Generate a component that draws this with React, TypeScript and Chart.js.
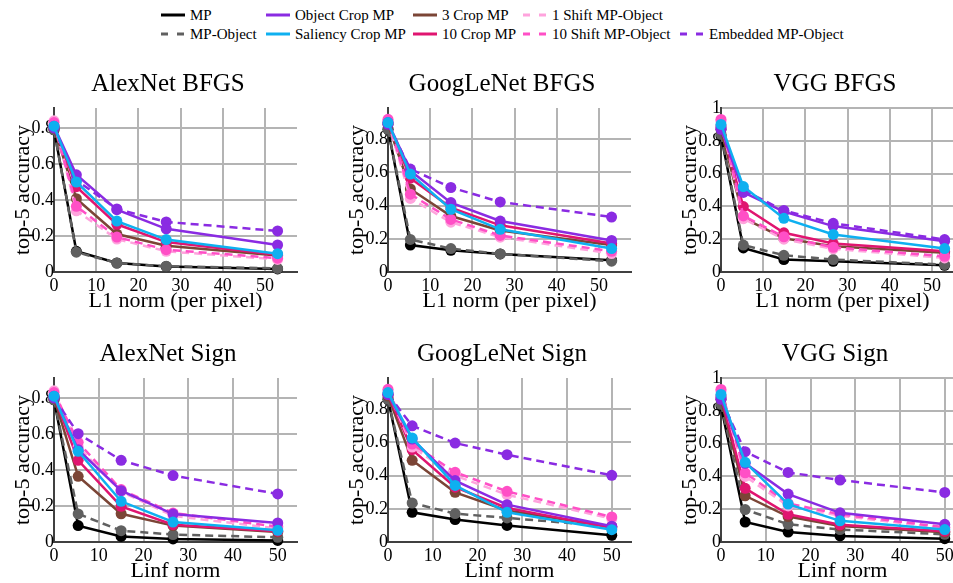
import React, { useEffect, useRef } from 'react';
import { Chart, registerables } from 'chart.js';

Chart.register(...registerables);

// ---------- data ----------
const seriesNames = [
  'MP',
  'MP-Object',
  'Object Crop MP',
  'Saliency Crop MP',
  '3 Crop MP',
  '10 Crop MP',
  '1 Shift MP-Object',
  '10 Shift MP-Object',
  'Embedded MP-Object',
];

const l1Norms = [0, 5.3, 14.9, 26.6, 53];
const linfNorms = [0, 5.4, 15, 26.6, 50];

// rows follow seriesNames order
const alexNetBFGS = [
  [0.79, 0.115, 0.05, 0.031, 0.017],
  [0.79, 0.11, 0.05, 0.032, 0.02],
  [0.81, 0.54, 0.346, 0.24, 0.15],
  [0.81, 0.5, 0.283, 0.18, 0.102],
  [0.8, 0.407, 0.211, 0.146, 0.092],
  [0.81, 0.474, 0.265, 0.166, 0.096],
  [0.84, 0.34, 0.183, 0.115, 0.07],
  [0.83, 0.365, 0.194, 0.124, 0.077],
  [0.8, 0.51, 0.35, 0.278, 0.228],
];
const googLeNetBFGS = [
  [0.86, 0.162, 0.131, 0.109, 0.071],
  [0.86, 0.196, 0.141, 0.109, 0.065],
  [0.9, 0.61, 0.418, 0.307, 0.19],
  [0.9, 0.59, 0.378, 0.257, 0.141],
  [0.89, 0.5, 0.337, 0.25, 0.162],
  [0.9, 0.565, 0.388, 0.281, 0.172],
  [0.91, 0.443, 0.3, 0.21, 0.111],
  [0.92, 0.469, 0.317, 0.22, 0.125],
  [0.89, 0.62, 0.509, 0.422, 0.331],
];
const vggBFGS = [
  [0.83, 0.147, 0.076, 0.065, 0.041],
  [0.84, 0.164, 0.102, 0.076, 0.045],
  [0.88, 0.485, 0.368, 0.28, 0.188],
  [0.9, 0.521, 0.327, 0.229, 0.143],
  [0.87, 0.33, 0.205, 0.157, 0.117],
  [0.89, 0.399, 0.239, 0.174, 0.127],
  [0.92, 0.325, 0.2, 0.141, 0.086],
  [0.93, 0.342, 0.215, 0.151, 0.096],
  [0.87, 0.5, 0.375, 0.297, 0.198],
];
const alexNetSign = [
  [0.79, 0.091, 0.031, 0.017, 0.009],
  [0.79, 0.156, 0.063, 0.041, 0.026],
  [0.81, 0.513, 0.285, 0.155, 0.106],
  [0.81, 0.504, 0.226, 0.111, 0.065],
  [0.8, 0.365, 0.157, 0.091, 0.055],
  [0.81, 0.454, 0.198, 0.096, 0.06],
  [0.84, 0.53, 0.28, 0.145, 0.075],
  [0.83, 0.554, 0.291, 0.161, 0.085],
  [0.8, 0.602, 0.454, 0.369, 0.267],
];
const googLeNetSign = [
  [0.86, 0.179, 0.135, 0.1, 0.04],
  [0.86, 0.235, 0.171, 0.145, 0.094],
  [0.89, 0.62, 0.37, 0.225, 0.095],
  [0.9, 0.627, 0.341, 0.179, 0.074],
  [0.88, 0.492, 0.299, 0.19, 0.09],
  [0.89, 0.556, 0.33, 0.205, 0.085],
  [0.91, 0.572, 0.4, 0.285, 0.14],
  [0.92, 0.59, 0.42, 0.305, 0.151],
  [0.89, 0.7, 0.596, 0.526, 0.402],
];
const vggSign = [
  [0.83, 0.122, 0.061, 0.037, 0.02],
  [0.84, 0.198, 0.108, 0.076, 0.047],
  [0.88, 0.48, 0.292, 0.178, 0.108],
  [0.9, 0.486, 0.231, 0.129, 0.076],
  [0.87, 0.282, 0.155, 0.097, 0.06],
  [0.89, 0.327, 0.169, 0.105, 0.065],
  [0.92, 0.4, 0.22, 0.16, 0.085],
  [0.93, 0.422, 0.235, 0.169, 0.09],
  [0.87, 0.551, 0.424, 0.378, 0.302],
];

const panelTitles = ['AlexNet BFGS', 'GoogLeNet BFGS', 'VGG BFGS', 'AlexNet Sign', 'GoogLeNet Sign', 'VGG Sign'];
const panelValues = [alexNetBFGS, googLeNetBFGS, vggBFGS, alexNetSign, googLeNetSign, vggSign];
const xTitles = ['L1 norm (per pixel)', 'Linf norm'];
const yTitle = 'top-5 accuracy';
const xTickStep = 10;
const yTickStep = 0.2;

// ---------- styles ----------
const FONT = '"Liberation Serif", "Times New Roman", serif';
const seriesColors = ['#000000', '#606060', '#8a2be2', '#0eb0f0', '#7b4536', '#e01570', '#ffa3dd', '#ff4fc6', '#8a2be2'];
const seriesDashed = [false, true, false, false, false, false, true, true, true];
// higher number = drawn later (on top)
const drawRank = [0, 1, 7, 8, 2, 3, 4, 5, 6];
const xMaxByRow = [57.6, 54.3];
const yMaxByCol = [0.911, 0.988, 1.0];
const colLeft = [0, 334, 667];
const rowTop = [60, 330];
const CW = 336;
const CH = 257;

const legendColX = [161, 266, 413, 523, 680];
const legendRowY = [15, 34];
const legendCell = [
  [0, 0], [0, 1], [1, 0], [1, 1], [2, 0], [2, 1], [3, 0], [3, 1], [4, 1],
];

const fmtTick = (v: any) => String(+Number(v).toFixed(2));

function Panel({ idx }: { idx: number }) {
  const ref = useRef<HTMLCanvasElement | null>(null);
  const row = Math.floor(idx / 3);
  const col = idx % 3;
  useEffect(() => {
    if (!ref.current) return;
    const xs = row === 0 ? l1Norms : linfNorms;
    const vals = panelValues[idx];
    const chart = new Chart(ref.current, {
      type: 'line',
      data: {
        datasets: seriesNames.map((name, i) => ({
          label: name,
          data: xs.map((x, j) => ({ x, y: vals[i][j] })),
          borderColor: seriesColors[i],
          backgroundColor: seriesColors[i],
          borderWidth: 2.5,
          borderDash: seriesDashed[i] ? [8, 5] : [],
          pointRadius: 5.5,
          pointHoverRadius: 5.5,
          pointBorderWidth: 0,
          pointBackgroundColor: seriesColors[i],
          tension: 0,
          clip: false as any,
          order: 100 - drawRank[i],
        })),
      },
      options: {
        responsive: false,
        animation: false,
        events: [],
        layout: { padding: 0 },
        plugins: {
          legend: { display: false },
          tooltip: { enabled: false },
          title: {
            display: true,
            text: panelTitles[idx],
            color: '#000',
            font: { family: FONT, size: 25, weight: 'normal' },
            padding: { top: 9, bottom: 9 },
          },
        },
        scales: {
          x: {
            type: 'linear',
            min: 0,
            max: xMaxByRow[row],
            afterFit: (s: any) => { s.height = 45; },
            grid: { color: '#b4b4b4', lineWidth: 2, drawTicks: false },
            border: { display: true, color: '#404040', width: 2 },
            ticks: {
              stepSize: xTickStep,
              includeBounds: false,
              autoSkip: false,
              maxRotation: 0,
              padding: 3,
              color: '#000',
              font: { family: FONT, size: 18 },
              callback: fmtTick,
            },
            title: {
              display: true,
              text: xTitles[row],
              color: '#000',
              font: { family: FONT, size: 22 },
              padding: { top: 0, bottom: 3 },
            },
          },
          y: {
            type: 'linear',
            min: 0,
            max: yMaxByCol[col],
            afterFit: (s: any) => { s.width = 54; },
            grid: { color: '#b4b4b4', lineWidth: 2, drawTicks: false },
            border: { display: true, color: '#404040', width: 2 },
            ticks: {
              stepSize: yTickStep,
              includeBounds: false,
              autoSkip: false,
              padding: 0,
              color: '#000',
              font: { family: FONT, size: 18 },
              callback: fmtTick,
            },
            title: {
              display: true,
              text: yTitle,
              color: '#000',
              font: { family: FONT, size: 22 },
              padding: { top: 10, bottom: 0 },
            },
          },
          yR: {
            type: 'linear',
            position: 'right',
            display: true,
            afterFit: (s: any) => { s.width = 39; },
            grid: { display: false, drawTicks: false },
            border: { display: false },
            ticks: { display: false },
          },
        },
      } as any,
    });
    return () => chart.destroy();
  }, [idx]);
  return (
    <canvas
      ref={ref}
      width={CW}
      height={CH}
      style={{ position: 'absolute', left: colLeft[col], top: rowTop[row], width: CW, height: CH }}
    />
  );
}

function Legend() {
  return (
    <>
      {seriesNames.map((name, i) => {
        const [c, r] = legendCell[i];
        return (
          <div
            key={name}
            style={{
              position: 'absolute',
              left: legendColX[c],
              top: legendRowY[r] - 9,
              height: 18,
              display: 'flex',
              alignItems: 'center',
              whiteSpace: 'nowrap',
              fontFamily: FONT,
              fontSize: 15,
              lineHeight: '18px',
              color: '#000',
            }}
          >
            <svg width={24} height={4} style={{ display: 'block', marginRight: 5 }}>
              <line
                x1={0}
                y1={2}
                x2={24}
                y2={2}
                stroke={seriesColors[i]}
                strokeWidth={3}
                strokeDasharray={seriesDashed[i] ? '7 9' : undefined}
              />
            </svg>
            <span>{name}</span>
          </div>
        );
      })}
    </>
  );
}

export default function App() {
  return (
    <div
      style={{
        position: 'absolute',
        left: 0,
        top: 0,
        width: 953,
        height: 583,
        overflow: 'hidden',
        background: '#fff',
      }}
    >
      <Legend />
      {panelTitles.map((t, i) => (
        <Panel key={t} idx={i} />
      ))}
    </div>
  );
}
